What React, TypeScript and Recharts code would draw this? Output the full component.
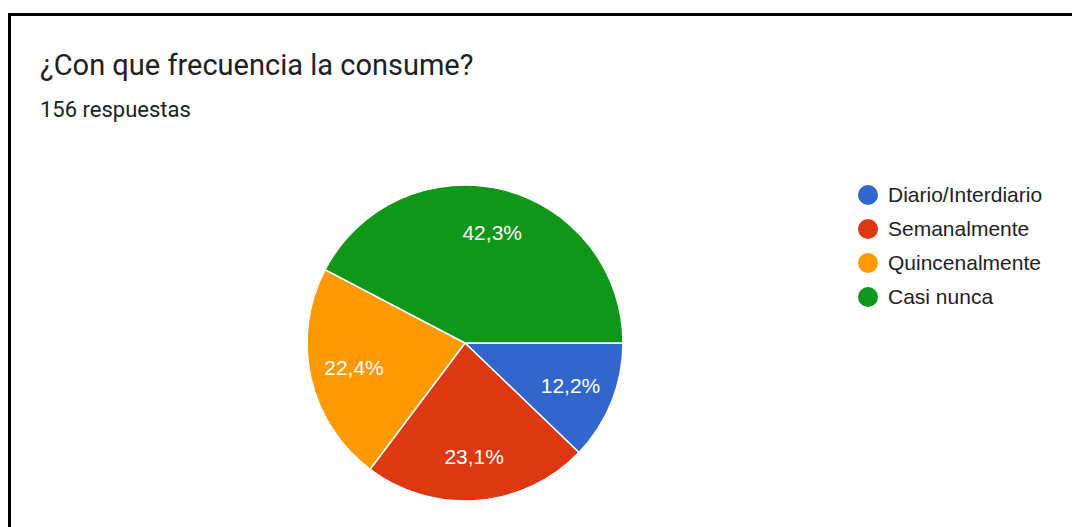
import React from 'react';
import { PieChart, Pie, Cell, Legend } from 'recharts';

// respuestas por categoria (156 en total)
const categories = ['Diario/Interdiario', 'Semanalmente', 'Quincenalmente', 'Casi nunca'];
const counts = [19, 36, 35, 66];
const colors = ['#3366cc', '#dc3912', '#ff9900', '#109618'];
const percentLabels = ['12,2%', '23,1%', '22,4%', '42,3%'];

const title = '¿Con que frecuencia la consume?';
const subtitle = '156 respuestas';

const chartData = categories.map((name, i) => ({
  name,
  value: counts[i],
  label: percentLabels[i],
}));

const RADIAN = Math.PI / 180;

const renderLabel = (props: any) => {
  const { cx, cy, midAngle, outerRadius, index } = props;
  const r = outerRadius * 0.72;
  const x = cx + r * Math.cos(-midAngle * RADIAN);
  const y = cy + r * Math.sin(-midAngle * RADIAN);
  return (
    <text
      x={x}
      y={y}
      fill="#ffffff"
      textAnchor="middle"
      dominantBaseline="central"
      fontFamily="'Liberation Sans', Arial, sans-serif"
      fontSize={21}
    >
      {chartData[index].label}
    </text>
  );
};

const CustomLegend = () => (
  <div style={{ fontFamily: "'Liberation Sans', Arial, sans-serif" }}>
    {chartData.map((d, i) => (
      <div key={d.name} style={{ display: 'flex', alignItems: 'center', height: 34 }}>
        <span
          style={{
            display: 'inline-block',
            width: 20,
            height: 20,
            borderRadius: '50%',
            background: colors[i],
            marginRight: 10,
          }}
        />
        <span style={{ fontSize: 21, color: '#222222' }}>{d.name}</span>
      </div>
    ))}
  </div>
);

const App: React.FC = () => {
  return (
    <div
      style={{
        position: 'fixed',
        left: 0,
        top: 0,
        width: 1072,
        height: 527,
        overflow: 'hidden',
        background: '#ffffff',
      }}
    >
      <div
        style={{
          position: 'absolute',
          left: 8,
          top: 13,
          width: 1100,
          height: 600,
          border: '3px solid #000000',
          boxSizing: 'border-box',
        }}
      />
      <div
        style={{
          position: 'absolute',
          left: 40,
          top: 51,
          fontFamily: 'Roboto, sans-serif',
          fontSize: 29,
          lineHeight: '29px',
          color: '#202124',
          whiteSpace: 'nowrap',
        }}
      >
        {title}
      </div>
      <div
        style={{
          position: 'absolute',
          left: 40,
          top: 99,
          fontFamily: 'Roboto, sans-serif',
          fontSize: 22,
          lineHeight: '22px',
          color: '#202124',
          whiteSpace: 'nowrap',
        }}
      >
        {subtitle}
      </div>
      <div style={{ position: 'absolute', left: 0, top: 0 }}>
        <PieChart width={1072} height={527} margin={{ top: 0, right: 0, bottom: 0, left: 0 }}>
          <Pie
            data={chartData}
            dataKey="value"
            nameKey="name"
            cx={465}
            cy={343}
            outerRadius={158}
            startAngle={0}
            endAngle={-360}
            stroke="#ffffff"
            strokeWidth={1.5}
            label={renderLabel}
            labelLine={false}
            isAnimationActive={false}
          >
            {chartData.map((d, i) => (
              <Cell key={d.name} fill={colors[i]} />
            ))}
          </Pie>
          <Legend
            layout="vertical"
            verticalAlign="top"
            align="right"
            content={<CustomLegend />}
            wrapperStyle={{ left: 858, top: 178, width: 210 }}
          />
        </PieChart>
      </div>
    </div>
  );
};

export default App;
